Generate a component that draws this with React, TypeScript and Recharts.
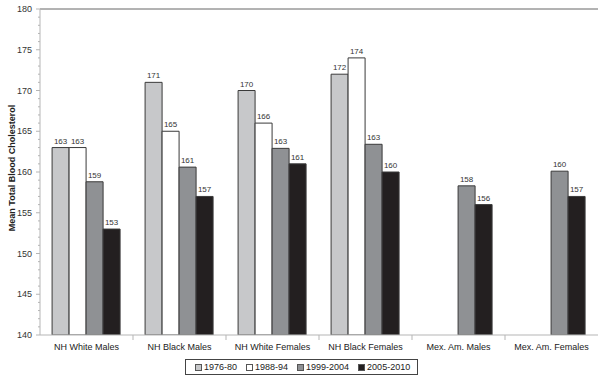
import React from 'react';
import { BarChart, Bar, XAxis, YAxis, LabelList, Legend, ReferenceLine } from 'recharts';

const categories = ['NH White Males', 'NH Black Males', 'NH White Females', 'NH Black Females', 'Mex. Am. Males', 'Mex. Am. Females'];
const s1976 = [163, 171, 170, 172, null, null];
const s1988 = [163, 165, 166, 174, null, null];
const s1999 = [158.8, 160.6, 162.9, 163.4, 158.3, 160.1];
const s2005 = [153, 157, 161, 160, 156, 157];
const seriesNames = ['1976-80', '1988-94', '1999-2004', '2005-2010'];
const seriesColors = ['#c7c8ca', '#ffffff', '#8f9194', '#231f20'];
const yTicks = Array.from({ length: 41 }, (_, i) => 140 + i);

const data = categories.map((c, i) => ({
  name: c,
  a: s1976[i],
  b: s1988[i],
  c: s1999[i],
  d: s2005[i],
}));

const FONT = '"Liberation Sans", Arial, sans-serif';

const YTick = (props: any) => {
  const { x, y, payload } = props;
  const v = payload.value;
  const major = v % 5 === 0;
  return (
    <g>
      <line x1={x - (major ? 4 : 2)} x2={x} y1={y} y2={y} stroke="#b5b5b5" strokeWidth={1} />
      {major && (
        <text x={x - 8} y={y} dy="0.35em" textAnchor="end" fontSize={9} fill="#333" fontFamily={FONT}>
          {v}
        </text>
      )}
    </g>
  );
};

const XTick = (props: any) => {
  const { x, y, payload } = props;
  const off = payload.offset || 46.5;
  const last = payload.index === categories.length - 1;
  return (
    <g>
      {!last && <line x1={x + off} x2={x + off} y1={y} y2={y + 5} stroke="#b5b5b5" strokeWidth={1} />}
      <text x={x} y={y + 15} textAnchor="middle" fontSize={9} fill="#222" fontFamily={FONT}>
        {payload.value}
      </text>
    </g>
  );
};

const YLabel = (props: any) => {
  const vb = props.viewBox || { x: 0, y: 9, width: 40, height: 326 };
  const cx = vb.x + 12;
  const cy = vb.y + vb.height / 2 - 4;
  return (
    <text x={cx} y={cy} transform={`rotate(-90, ${cx}, ${cy})`} textAnchor="middle" dy="0.35em" fontSize={9} fontWeight="bold" fill="#222" fontFamily={FONT}>
      Mean Total Blood Cholesterol
    </text>
  );
};

const LegendContent = () => (
  <div style={{ display: 'flex', alignItems: 'center', border: '1px solid #444', padding: '0 7px 0 9px', height: 14, fontFamily: FONT, fontSize: 9, color: '#222', background: '#fff' }}>
    {seriesNames.map((n, i) => (
      <div key={n} style={{ display: 'flex', alignItems: 'center', marginRight: i < seriesNames.length - 1 ? 9 : 0 }}>
        <span style={{ display: 'inline-block', width: 5, height: 5, border: '1px solid #555', background: seriesColors[i], marginRight: 2 }} />
        <span>{n}</span>
      </div>
    ))}
  </div>
);

const fmt = (v: any) => (v == null ? '' : Math.round(Number(v)));

export default function App() {
  const keys = ['a', 'b', 'c', 'd'];
  return (
    <div style={{ position: 'absolute', left: 0, top: 0, width: 604, height: 379, background: '#fff' }}>
      <BarChart width={604} height={379} data={data} margin={{ top: 9, right: 6, bottom: 8, left: 0 }} barCategoryGap="13%" barGap={0}>
        <XAxis dataKey="name" height={20} tick={<XTick />} tickLine={false} tickSize={0} tickMargin={0} axisLine={{ stroke: '#b5b5b5' }} interval={0} />
        <YAxis width={40} domain={[140, 180]} ticks={yTicks} interval={0} allowDataOverflow tick={<YTick />} tickLine={false} tickSize={0} tickMargin={0} axisLine={{ stroke: '#b5b5b5' }} label={<YLabel />} />
        <YAxis yAxisId="right" orientation="right" width={0} domain={[140, 180]} tick={false} tickLine={false} axisLine={{ stroke: '#666' }} />
        <ReferenceLine y={180} stroke="#666" strokeWidth={1} />
        <Legend verticalAlign="bottom" content={<LegendContent />} wrapperStyle={{ position: 'absolute', left: 185, top: 359, width: 'auto', height: 16 }} />
        {keys.map((k, i) => (
          <Bar key={k} dataKey={k} name={seriesNames[i]} fill={seriesColors[i]} stroke="#3a3a3a" strokeWidth={1} isAnimationActive={false}>
            <LabelList dataKey={k} position="top" offset={4} fontSize={8} fill="#333" fontFamily={FONT} formatter={fmt} />
          </Bar>
        ))}
      </BarChart>
    </div>
  );
}
